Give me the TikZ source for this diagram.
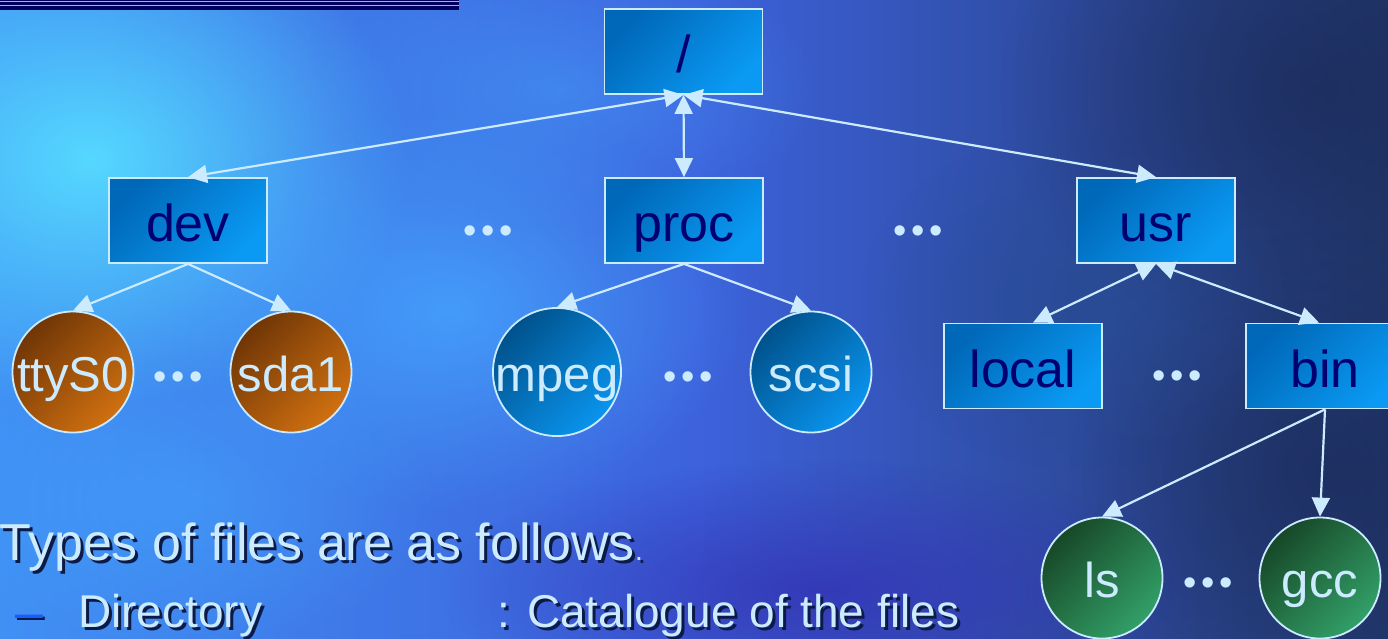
\documentclass[tikz,border=0pt]{standalone}
\usepackage{fontspec}
\setmainfont{Liberation Sans}
\usetikzlibrary{arrows.meta,fadings}

% palette
\definecolor{bgL}{HTML}{4090F4}
\definecolor{bgM}{HTML}{3D62DC}
\definecolor{bgR}{HTML}{22386C}
\definecolor{glowcyan}{HTML}{55D8FF}
\definecolor{glowblue}{HTML}{45A6FF}
\definecolor{deepblue}{HTML}{3434B4}
\definecolor{nightblue}{HTML}{1C2C5C}
\definecolor{slate}{HTML}{264C90}
\definecolor{navytext}{HTML}{000070}
\definecolor{pale}{HTML}{CCEBFF}
\definecolor{boxdark}{HTML}{0068B8}
\definecolor{boxlight}{HTML}{0A9AF4}
\definecolor{rustdark}{HTML}{703606}
\definecolor{rustlight}{HTML}{D07010}
\definecolor{bluedark}{HTML}{00528C}
\definecolor{bluelight}{HTML}{0A94EE}
\definecolor{greendark}{HTML}{174828}
\definecolor{greenlight}{HTML}{32A068}
\definecolor{dashblue}{HTML}{1A5CFF}
\definecolor{shadowcol}{HTML}{0C1A48}
\definecolor{bandnavy}{HTML}{00005E}
\definecolor{bandline}{HTML}{7FC0FF}

\tikzfading[name=glow, inner color=transparent!0, outer color=transparent!100]

\begin{document}
\begin{tikzpicture}[x=1pt,y=-1pt,
  dirbox/.style={draw=pale, line width=1.8pt, minimum width=158pt,
    minimum height=85pt, inner sep=0pt, top color=boxdark,
    bottom color=boxlight, shading angle=45, text=navytext,
    font=\fontsize{52}{52}\selectfont, text height=42pt, text depth=0pt},
  filedisc/.style={circle, draw=pale, line width=1.8pt, minimum size=121pt,
    inner sep=0pt, text=pale,
    font=\fontsize{49}{49}\selectfont, text height=38pt, text depth=0pt},
  devfile/.style={filedisc, top color=rustdark, bottom color=rustlight, shading angle=45},
  procfile/.style={filedisc, top color=bluedark, bottom color=bluelight, shading angle=45},
  binfile/.style={filedisc, top color=greendark, bottom color=greenlight, shading angle=45},
  ellip/.style={text=pale, font=\fontsize{38}{38}\selectfont, inner sep=0pt, anchor=base},
  link/.style={draw=pale, line width=2.2pt},
  tip/.tip={Triangle[length=19pt, width=18pt]},
  caption/.style={anchor=base west, inner sep=0pt, text=pale},
  captionshadow/.style={anchor=base west, inner sep=0pt, text=shadowcol},
]
\useasboundingbox (0,0) rectangle (1388,638);
\clip (0,0) rectangle (1388,638);

% cloudy backdrop
\fill[left color=bgL, right color=bgR, middle color=bgM] (0,0) rectangle (1388,638);
\fill[glowcyan, path fading=glow] (90,160) ellipse (320 and 250);
\fill[glowblue, path fading=glow, fill opacity=0.8] (450,310) ellipse (300 and 200);
\fill[glowblue, path fading=glow, fill opacity=0.5] (180,500) ellipse (260 and 150);
\fill[glowblue, path fading=glow, fill opacity=0.45] (560,90) ellipse (260 and 140);
\fill[deepblue, path fading=glow, fill opacity=0.85] (820,590) ellipse (380 and 130);
\fill[nightblue, path fading=glow, fill opacity=0.8] (1320,90) ellipse (320 and 260);
\fill[nightblue, path fading=glow, fill opacity=0.75] (1330,470) ellipse (260 and 240);
\fill[slate, path fading=glow, fill opacity=0.6] (1080,300) ellipse (220 and 170);

% title bar remnant at the top left
\fill[bandnavy] (0,0) rectangle (459,10);
\fill[bandline] (0,1) rectangle (459,2);
\fill[bandline] (0,4.6) rectangle (459,5.6);

% directory boxes
\node[dirbox] (root)  at (683.5,51.5) {/};
\node[dirbox] (dev)   at (188,220.5) {dev};
\node[dirbox] (proc)  at (684,220.5) {proc};
\node[dirbox] (usr)   at (1156,220.5) {usr};
\node[dirbox] (local) at (1023,366) {local};
\node[dirbox] (bin)   at (1325,366) {bin};

% files
\node[devfile]  (tty)  at (73,372)  {ttyS0};
\node[devfile]  (sda)  at (291,372) {sda1};
\node[procfile] (mpeg) at (557,372) {mpeg};
\node[procfile] (scsi) at (811,372) {scsi};
\node[binfile]  (ls)   at (1102,578) {ls};
\node[binfile]  (gcc)  at (1320,578) {gcc};

% elided siblings
\newcommand\threedots{•\kern4.5pt•\kern4.5pt•}
\node[ellip] (e1) at (488,243) {\threedots};
\node[ellip] (e2) at (918,243) {\threedots};
\node[ellip] (e3) at (178,389) {\threedots};
\node[ellip] (e4) at (688,389) {\threedots};
\node[ellip] (e5) at (1177,388) {\threedots};
\node[ellip] (e6) at (1208,595) {\threedots};

% links
\draw[link, tip-tip] (root.south) -- (dev.north);
\draw[link, tip-tip] (root.south) -- (proc.north);
\draw[link, tip-tip] (root.south) -- (usr.north);
\draw[link, -tip] (dev.south) -- (tty.north);
\draw[link, -tip] (dev.south) -- (sda.north);
\draw[link, -tip] (proc.south) -- (mpeg.north);
\draw[link, -tip] (proc.south) -- (scsi.north);
\draw[link, tip-tip] (usr.south) -- ([xshift=10pt]local.north);
\draw[link, tip-tip] (usr.south) -- ([xshift=-6pt]bin.north);
\draw[link, -tip] (bin.south) -- (ls.north);
\draw[link, -tip] (bin.south) -- (gcc.north);

% caption text
\node[captionshadow, font=\fontsize{52}{52}\selectfont] (typesS) at (2,563)
  {Types of files are as follows{\fontsize{28}{28}\selectfont.}};
\node[caption, font=\fontsize{52}{52}\selectfont] (types) at (-1,560)
  {Types of files are as follows{\fontsize{28}{28}\selectfont.}};
\node[captionshadow, font=\fontsize{50}{50}\selectfont] (dashS) at (17,631) {–};
\node[anchor=base west, inner sep=0pt, text=dashblue, font=\fontsize{50}{50}\selectfont] (dash) at (15,629) {–};
\node[captionshadow, font=\fontsize{46}{46}\selectfont] (dirS) at (81,630) {Directory};
\node[caption, font=\fontsize{46}{46}\selectfont] (dir) at (78,627) {Directory};
\node[captionshadow, font=\fontsize{46}{46}\selectfont] (catS) at (500,630) {: Catalogue of the files};
\node[caption, font=\fontsize{46}{46}\selectfont] (cat) at (497,627) {: Catalogue of the files};
\end{tikzpicture}
\end{document}
